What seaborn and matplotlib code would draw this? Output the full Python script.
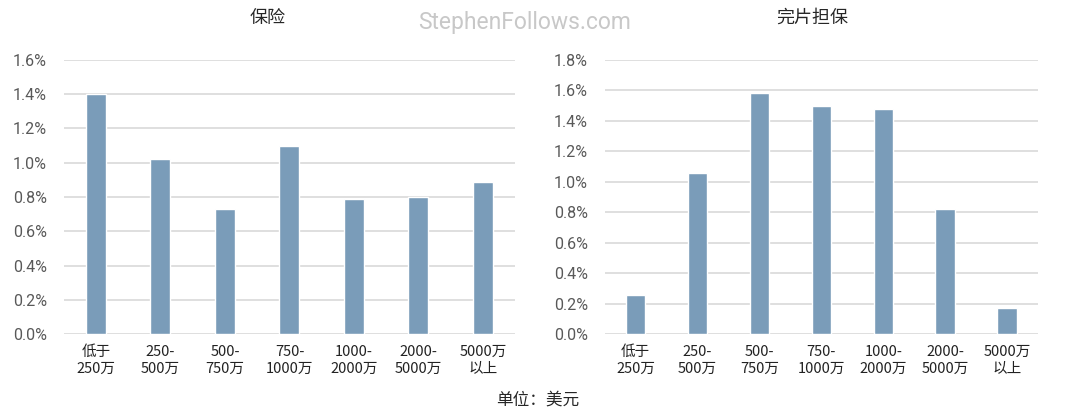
import matplotlib
matplotlib.use("Agg")
import matplotlib.pyplot as plt
import seaborn as sns
import pandas as pd

# Data
categories = ["低于\n250万", "250-\n500万", "500-\n750万", "750-\n1000万",
              "1000-\n2000万", "2000-\n5000万", "5000万\n以上"]
insurance = [1.40, 1.02, 0.73, 1.10, 0.79, 0.80, 0.89]
completion_bond = [0.26, 1.06, 1.58, 1.50, 1.48, 0.82, 0.17]
titles = ["保险", "完片担保"]
y_limits = [1.6, 1.8]

sns.set_style("white")
plt.rcParams["font.family"] = ["Noto Sans CJK SC", "DejaVu Sans"]

bar_color = "#7a9cb9"
grid_color = "#d9d9d9"
tick_color = "#595959"

fig = plt.figure(figsize=(10.8, 4.13), dpi=100)
ax1 = fig.add_axes([0.059, 0.191, 0.418, 0.664])
ax2 = fig.add_axes([0.560, 0.191, 0.401, 0.664])

for ax, vals, title, ymax in zip([ax1, ax2], [insurance, completion_bond], titles, y_limits):
    df = pd.DataFrame({"cat": categories, "val": vals})
    sns.barplot(data=df, x="cat", y="val", color=bar_color, width=0.31,
                saturation=1, ax=ax, zorder=3)
    ax.set_ylim(0, ymax)
    ticks = [round(i * 0.2, 1) for i in range(int(round(ymax / 0.2)) + 1)]
    ax.set_yticks(ticks)
    ax.set_yticklabels([f"{t:.1f}%" for t in ticks], color=tick_color, fontsize=11.5,
                       family="Roboto")
    ax.yaxis.grid(True, color=grid_color, linewidth=1.2, zorder=0)
    ax.set_axisbelow(True)
    for s in ax.spines.values():
        s.set_visible(False)
    ax.tick_params(axis="both", length=0)
    ax.tick_params(axis="y", pad=12)
    ax.tick_params(axis="x", pad=8)
    for lbl in ax.get_xticklabels():
        lbl.set_fontsize(10.5)
        lbl.set_color("#222222")
    ax.set_xlabel("")
    ax.set_ylabel("")
    ax.set_xlim(-0.5, len(categories) - 0.5)

fig.text(268 / 1080, 1 - 18 / 413, titles[0], ha="center", va="center", fontsize=13)
fig.text(812 / 1080, 1 - 18 / 413, titles[1], ha="center", va="center", fontsize=13)
fig.text(525 / 1080, 1 - 22 / 413, "StephenFollows.com", ha="center", va="center",
         fontsize=16.5, color="#c8c8c8", family="Roboto")
fig.text(538 / 1080, 1 - 400 / 413, "单位：美元", ha="center", va="center", fontsize=12)

fig.savefig("out.png", dpi=100, facecolor="white")
